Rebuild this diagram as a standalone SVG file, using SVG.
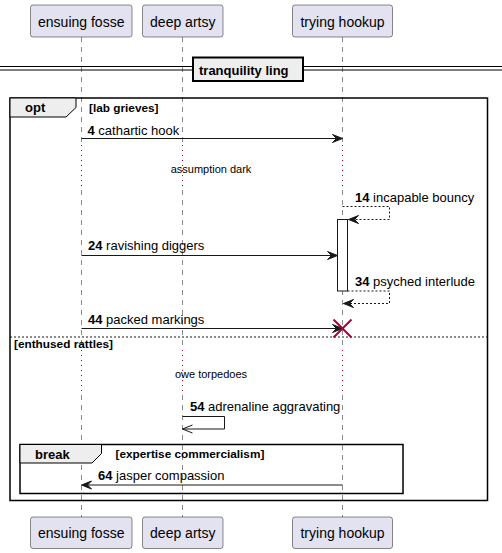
<svg xmlns="http://www.w3.org/2000/svg" width="502" height="553" viewBox="0 0 502 553">
<style>
.pbox{fill:#E2E2F0;stroke:#181818;stroke-width:0.5}
.ptxt{font-family:"Liberation Sans",Arial,sans-serif;font-size:14px;fill:#000;text-anchor:middle}
.life{stroke:#181818;stroke-width:0.5;stroke-dasharray:5,5;fill:none}
.delay{stroke:#A80036;stroke-width:1;stroke-dasharray:1,4;fill:none}
.msg{font-family:"Liberation Sans",Arial,sans-serif;font-size:13px;fill:#000}
.b{font-weight:bold}
.small{font-family:"Liberation Sans",Arial,sans-serif;font-size:11px;fill:#000;text-anchor:middle}
.guard{font-family:"Liberation Sans",Arial,sans-serif;font-size:11.8px;font-weight:bold;fill:#000}
.line{stroke:#181818;stroke-width:1;fill:none}
.dline{stroke:#181818;stroke-width:1;fill:none;stroke-dasharray:2,2}
.head{fill:#181818;stroke:#181818;stroke-width:1}
.frame{fill:none;stroke:#000;stroke-width:1.5}
.tab{fill:#EEEEEE;stroke:#000;stroke-width:1}
.ftitle{font-family:"Liberation Sans",Arial,sans-serif;font-size:13px;font-weight:bold;fill:#000}
</style>
<rect width="502" height="553" fill="#FFFFFF"/>
<g id="lifelines">
<line class="life" x1="81.5" y1="37" x2="81.5" y2="143"/>
<line class="delay" x1="81.5" y1="145" x2="81.5" y2="189"/>
<line class="life" x1="81.5" y1="190" x2="81.5" y2="348"/>
<line class="delay" x1="81.5" y1="350" x2="81.5" y2="393"/>
<line class="life" x1="81.5" y1="395" x2="81.5" y2="517"/>
<line class="life" x1="182.5" y1="37" x2="182.5" y2="143"/>
<line class="delay" x1="182.5" y1="145" x2="182.5" y2="189"/>
<line class="life" x1="182.5" y1="190" x2="182.5" y2="348"/>
<line class="delay" x1="182.5" y1="350" x2="182.5" y2="393"/>
<line class="life" x1="182.5" y1="395" x2="182.5" y2="517"/>
<line class="life" x1="342.5" y1="37" x2="342.5" y2="143"/>
<line class="delay" x1="342.5" y1="145" x2="342.5" y2="189"/>
<line class="life" x1="342.5" y1="190" x2="342.5" y2="348"/>
<line class="delay" x1="342.5" y1="350" x2="342.5" y2="393"/>
<line class="life" x1="342.5" y1="395" x2="342.5" y2="517"/>
</g>
<g id="divider">
<line x1="0" y1="66.5" x2="502" y2="66.5" stroke="#000" stroke-width="1"/>
<line x1="0" y1="70" x2="502" y2="70" stroke="#000" stroke-width="1"/>
<rect x="193" y="57.5" width="110" height="23.5" fill="#EEEEEE" stroke="#000" stroke-width="2"/>
<text class="ftitle" x="199" y="75">tranquility ling</text>
</g>
<g id="opt-frame">
<rect class="frame" x="10" y="98" width="477.5" height="402.5"/>
<path class="tab" d="M10,98 H76 V107.5 L66,117 H10 Z"/>
<text class="ftitle" x="25" y="112">opt</text>
<text class="guard" x="89" y="112">[lab grieves]</text>
<line class="dline" x1="10" y1="337" x2="487.5" y2="337"/>
<text class="guard" x="14" y="348">[enthused rattles]</text>
</g>
<g id="break-frame">
<rect class="frame" x="20" y="444.5" width="383" height="49"/>
<path class="tab" d="M20,444.5 H101.5 V453.5 L92,463 H20 Z"/>
<text class="ftitle" x="35" y="459">break</text>
<text class="guard" x="115.5" y="458">[expertise commercialism]</text>
</g>
<g id="activation">
<rect x="337.5" y="219.5" width="10" height="71.5" fill="#FFFFFF" stroke="#181818" stroke-width="1"/>
</g>
<g id="connectors">
<line class="line" x1="81.5" y1="138.5" x2="340.5" y2="138.5"/>
<polygon class="head" points="332.5,134.5 342.5,138.5 332.5,142.5 336.5,138.5"/>
<polyline class="dline" points="342.5,206.5 389.5,206.5 389.5,219.5 348.5,219.5"/>
<polygon class="head" points="358.5,215.5 348.5,219.5 358.5,223.5 354.5,219.5"/>
<line class="line" x1="81.5" y1="255.5" x2="335.5" y2="255.5"/>
<polygon class="head" points="327.5,251.5 337.5,255.5 327.5,259.5 331.5,255.5"/>
<polyline class="dline" points="347.5,291 389.5,291 389.5,303.5 343.5,303.5"/>
<polygon class="head" points="353.5,299.5 343.5,303.5 353.5,307.5 349.5,303.5"/>
<line class="line" x1="81.5" y1="328.5" x2="340.5" y2="328.5"/>
<polygon class="head" points="332.5,324.5 342.5,328.5 332.5,332.5 336.5,328.5"/>
<polyline class="line" points="182.5,416.5 224.5,416.5 224.5,429 182.5,429"/>
<polyline class="line" points="192.5,425 182.5,429 192.5,433"/>
<line class="line" x1="342.5" y1="485" x2="83.5" y2="485"/>
<polygon class="head" points="91.5,481 81.5,485 91.5,489 87.5,485"/>
</g>
<g id="destroy">
<line x1="333.5" y1="319.5" x2="351.5" y2="337.5" stroke="#A80036" stroke-width="2"/>
<line x1="333.5" y1="337.5" x2="351.5" y2="319.5" stroke="#A80036" stroke-width="2"/>
</g>
<g id="labels">
<text class="msg" x="87.5" y="135"><tspan class="b">4</tspan> cathartic hook</text>
<text class="small" x="211" y="173">assumption dark</text>
<text class="msg" x="355" y="202"><tspan class="b">14</tspan> incapable bouncy</text>
<text class="msg" x="88" y="250"><tspan class="b">24</tspan> ravishing diggers</text>
<text class="msg" x="355" y="286"><tspan class="b">34</tspan> psyched interlude</text>
<text class="msg" x="88" y="323.5"><tspan class="b">44</tspan> packed markings</text>
<text class="small" x="211" y="378">owe torpedoes</text>
<text class="msg" x="190" y="411"><tspan class="b">54</tspan> adrenaline aggravating</text>
<text class="msg" x="98" y="480"><tspan class="b">64</tspan> jasper compassion</text>
</g>
<g id="p-ensuing-fosse">
<rect class="pbox" x="30.5" y="5" width="101.5" height="32" rx="2.5"/>
<text class="ptxt" x="81.25" y="26.5">ensuing fosse</text>
<rect class="pbox" x="30.5" y="517" width="101.5" height="31.5" rx="2.5"/>
<text class="ptxt" x="81.25" y="537.5">ensuing fosse</text>
</g>
<g id="p-deep-artsy">
<rect class="pbox" x="142.5" y="5" width="80.5" height="32" rx="2.5"/>
<text class="ptxt" x="182.75" y="26.5">deep artsy</text>
<rect class="pbox" x="142.5" y="517" width="80.5" height="31.5" rx="2.5"/>
<text class="ptxt" x="182.75" y="537.5">deep artsy</text>
</g>
<g id="p-trying-hookup">
<rect class="pbox" x="292.5" y="5" width="100" height="32" rx="2.5"/>
<text class="ptxt" x="342.5" y="26.5">trying hookup</text>
<rect class="pbox" x="292.5" y="517" width="100" height="31.5" rx="2.5"/>
<text class="ptxt" x="342.5" y="537.5">trying hookup</text>
</g>
</svg>
